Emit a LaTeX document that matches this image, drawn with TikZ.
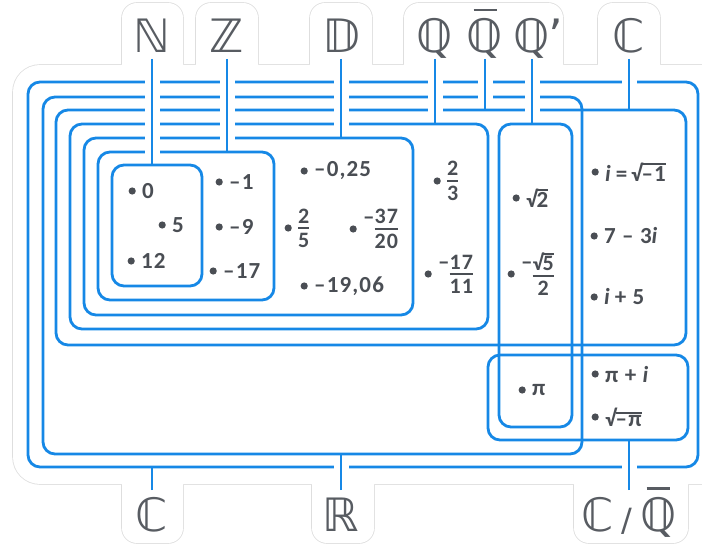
\documentclass[tikz,border=0pt]{standalone}
\usepackage{fontspec}
\setmainfont{Carlito}[LetterSpace=5]
\newfontfamily\bbfont{DejaVu Sans}
\usetikzlibrary{fit}
\definecolor{setblue}{RGB}{22,136,230}
\definecolor{ink}{RGB}{74,78,84}
\definecolor{labgray}{RGB}{88,92,98}
\definecolor{rim}{RGB}{222,222,222}
\tikzset{
  setbox/.style={draw=setblue,line width=2.8pt,rounded corners=12pt,inner sep=0pt,outer sep=0pt},
  setname/.style={font=\bbfont\fontsize{46}{46}\selectfont,text=labgray,inner sep=6pt,
    text height=35pt,text depth=0pt},
  link/.style={draw=setblue,line width=2.8pt},
  gap/.style={draw=white,line width=15pt},
  dot/.style={circle,fill=ink,inner sep=0pt,minimum size=7.2pt,xshift=-6pt},
  elem/.style={anchor=west,inner sep=0pt,text=ink,font=\fontsize{23}{25}\selectfont\bfseries,
    label={[dot]left:{}}},
  rimline/.style={draw=rim,line width=1.6pt},
  rimfill/.style={fill=white},
}
% stacked fraction, root with bar, overlined letter
\newcommand{\fr}[2]{{\fontsize{22}{24}\selectfont$\vcenter{\offinterlineskip\halign{\hfil##\hfil\cr#1\cr\noalign{\kern4pt\hrule height1.9pt\kern4pt}#2\cr}}$}}
\newcommand{\rt}[1]{√\kern-1pt\vbox{\hrule height1.8pt\kern1.3pt\hbox{#1}}}
\newcommand{\up}[1]{\raisebox{10pt}{#1}}
\newcommand{\qbar}{\vbox{\offinterlineskip\halign{\hfil##\hfil\cr\vrule width 0.5em height 0.05em\cr\noalign{\kern0.16em}ℚ\cr}}}

\begin{document}
\begin{tikzpicture}[x=1pt,y=-1pt]
  \useasboundingbox (0,0) rectangle (702,545);
  % sticker outline
  \foreach \s in {rimline,rimfill} {
    \path[\s,rounded corners=27pt] (13,65) rectangle (730,484);
    \foreach \a/\b in {122/183,196/258,310/372,404/563,598/660}
      \path[\s,rounded corners=15pt] (\a,3) rectangle (\b,90);
    \foreach \a/\b in {122/183,312/374,574/688}
      \path[\s,rounded corners=15pt] (\a,460) rectangle (\b,543);
  }

  % set boxes
  \node[setbox,fit={(28,82) (698,467)}] (bC) {};
  \node[setbox,fit={(43,97) (582,454)}] (bR) {};
  \node[setbox,fit={(56,110) (686,345)}] (bQb) {};
  \node[setbox,fit={(70,124) (488,329)}] (bQ) {};
  \node[setbox,fit={(84,138) (413,315)}] (bD) {};
  \node[setbox,fit={(98,152) (274,300)}] (bZ) {};
  \node[setbox,fit={(112,165) (202,286)}] (bN) {};
  \node[setbox,fit={(499,124) (572,427)}] (bQp) {};
  \node[setbox,fit={(488,355) (688,440)}] (bT) {};

  % set names
  \node[setname,anchor=south] (nN) at (152,59) {ℕ};
  \node[setname,anchor=south] (nZ) at (227,59) {ℤ};
  \node[setname,anchor=south] (nD) at (341,59) {𝔻};
  \node[setname,anchor=south] (nQ) at (435,59) {ℚ};
  \node[setname,anchor=south] (nQb) at (485,59) {\qbar};
  \node[setname,anchor=south] (nQp) at (532,59) {ℚ\rlap{\kern-2pt’}};
  \node[setname,anchor=south] (nCt) at (629,59) {ℂ};
  \node[setname,anchor=north] (nC) at (152,490) {ℂ};
  \node[setname,anchor=north] (nR) at (341,490) {ℝ};
  \node[setname,anchor=north] (nT) at (629,490) {ℂ\,{\fontsize{32}{32}\selectfont/}\,\qbar};

  \foreach \n/\b in {nN/bN,nZ/bZ,nD/bD,nQ/bQ,nQb/bQb,nQp/bQp,nCt/bQb} {
    \draw[gap] (\n.south) -- ([yshift=7pt]\n.south |- \b.north);
    \draw[link] (\n.south) -- (\n.south |- \b.north);
  }
  \foreach \n/\b in {nC/bC,nR/bR,nT/bT} {
    \draw[gap] (\n.north) -- ([yshift=-7pt]\n.north |- \b.south);
    \draw[link] (\n.north) -- (\n.north |- \b.south);
  }

  % elements
  \node[elem] (e0) at (142,191) {0};
  \node[elem] (e5) at (172,225) {5};
  \node[elem] (e12) at (141,261) {12};
  \node[elem] (em1) at (229,182) {--1};
  \node[elem] (em9) at (229,227) {--9};
  \node[elem] (em17) at (223,271) {--17};
  \node[elem] (em025) at (314,171) {--0,25};
  \node[elem] (etwofifth) at (298,228) {\fr{2}{5}};
  \node[elem] (em37) at (363,229) {\up{--}\fr{37}{20}};
  \node[elem] (em1906) at (314,286) {--19,06};
  \node[elem] (etwothird) at (447,181) {\fr{2}{3}};
  \node[elem] (em1711) at (438,274) {\up{--}\fr{17}{11}};
  \node[elem] (esqtwo) at (526,198) {\rt{2}};
  \node[elem] (esqfive) at (521,274) {\up{--}\fr{\rt{5}}{2}};
  \node[elem] (epi) at (532,390) {π};
  \node[elem] (ei) at (605,172) {\textit{i}\,=\,\rt{--1}};
  \node[elem] (eseven) at (604,236) {7 -- 3\textit{i}};
  \node[elem] (eifive) at (604,297) {\textit{i}\,+ 5};
  \node[elem] (epii) at (605,374) {π + \textit{i}};
  \node[elem] (esqpi) at (605,417) {\rt{--π}};
\end{tikzpicture}
\end{document}
